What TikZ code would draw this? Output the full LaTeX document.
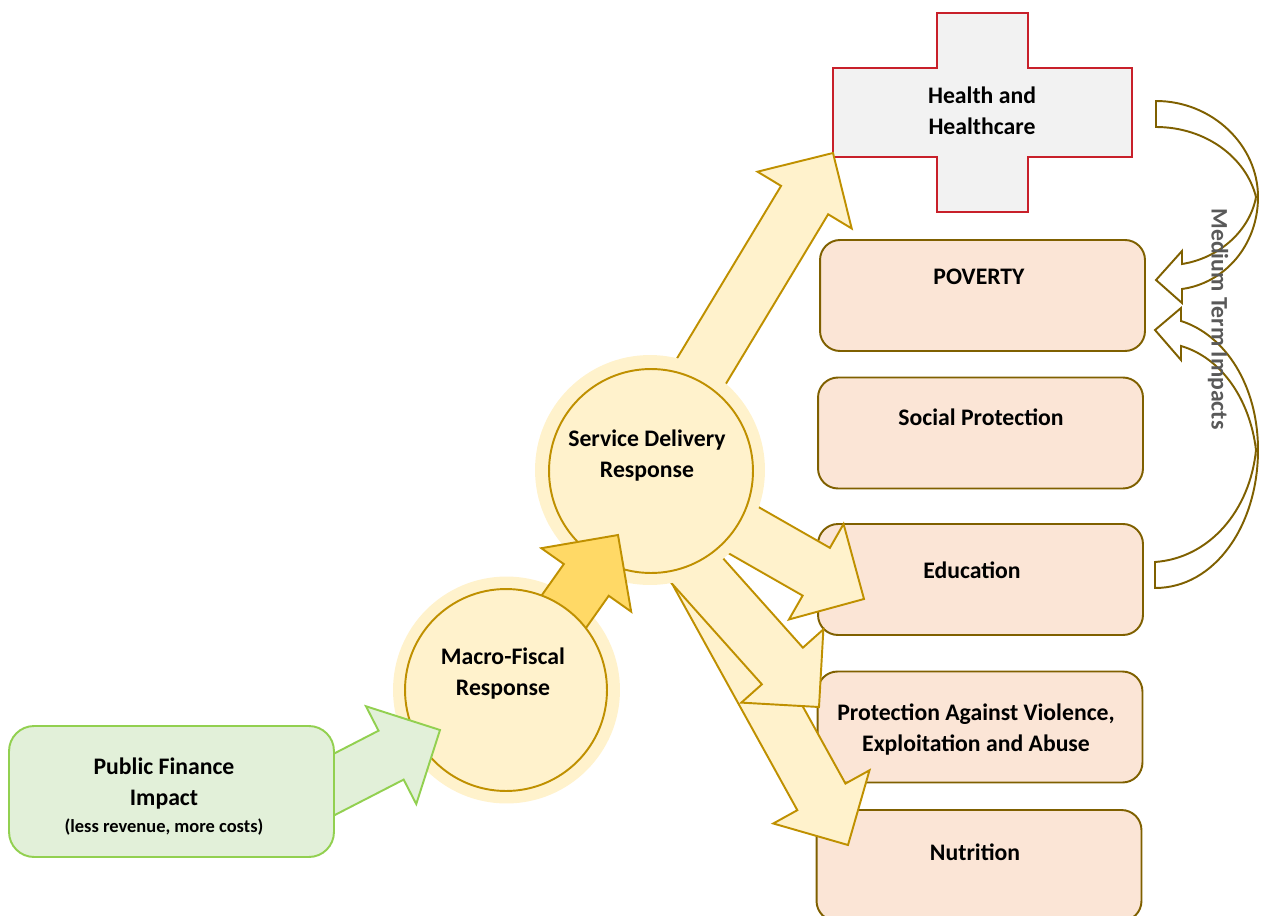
\documentclass[tikz,border=0pt]{standalone}
\usepackage{fontspec}
\setmainfont{Carlito}
\usetikzlibrary{calc}
\definecolor{ringfill}{HTML}{FFF2CC}
\definecolor{ringline}{HTML}{BF9000}
\definecolor{goldfill}{HTML}{FFD966}
\definecolor{greenfill}{HTML}{E2F0D9}
\definecolor{greenline}{HTML}{92D050}
\definecolor{peachfill}{HTML}{FBE5D6}
\definecolor{boxline}{HTML}{7F6000}
\definecolor{crossline}{HTML}{C8202A}
\definecolor{crossfill}{HTML}{F2F2F2}
\definecolor{sidetext}{HTML}{595959}
\tikzset{
  lab/.style={font=\fontsize{13.5}{17.6}\selectfont\bfseries,align=center,inner sep=0pt},
  impactbox/.style={draw=boxline,fill=peachfill,line width=1.1pt,rounded corners=.4cm,minimum width=6.5cm,minimum height=2.22cm,inner sep=0pt},
  glow/.style={circle,fill=ringfill,inner sep=0pt},
  disc/.style={circle,draw=ringline,fill=ringfill,line width=1.1pt,inner sep=0pt},
  fatyellow/.style={draw=ringline,fill=ringfill,line width=1.1pt,line join=miter},
  fatgold/.style={draw=ringline,fill=goldfill,line width=1.1pt},
  fatgreen/.style={draw=greenline,fill=greenfill,line width=1.1pt},
  bentline/.style={draw=boxline,line width=1.1pt}
}
% block arrow: style, tail, tip
\newcommand{\fatarrow}[3]{
  \coordinate (neck) at ($(#3)!1.1cm!(#2)$);
  \draw[#1] ($(#2)!.55cm!90:(#3)$) -- ($(neck)!.55cm!90:(#3)$) -- ($(neck)!1.1cm!90:(#3)$) -- (#3)
    -- ($(neck)!1.1cm!-90:(#3)$) -- ($(neck)!.55cm!-90:(#3)$) -- ($(#2)!.55cm!-90:(#3)$) -- cycle;
}
\begin{document}
\begin{tikzpicture}[x=.02cm,y=-.02cm]
    \useasboundingbox (0,0) rectangle (1261,916);
    \clip (0,0) rectangle (1261,916);

    \coordinate (srvhealth) at (681,405);
    \coordinate (srvedu) at (717,515);
    \coordinate (srvprot) at (677,548);
    \coordinate (srvnutr) at (681,543);
    \coordinate (fiscalout) at (553,627);
    \coordinate (financeout) at (300,802);
    \coordinate (healthtip) at (833,153);
    \coordinate (edutip) at (864,599);
    \coordinate (prottip) at (819,707);
    \coordinate (nutrtip) at (848,845);
    \coordinate (srvtip) at (618,535);
    \coordinate (fiscaltip) at (440,730);

    % right column
    \draw[draw=crossline,fill=crossfill,line width=1.1pt] (937,13) -- (1028,13) -- (1028,68) -- (1132,68) -- (1132,157) -- (1028,157) -- (1028,212) -- (937,212) -- (937,157) -- (833,157) -- (833,68) -- (937,68) -- cycle;
    \node[impactbox] (poverty) at (982.5,295.5) {};
    \node[impactbox] (social) at (980.5,433) {};
    \node[impactbox] (education) at (980.5,579.5) {};
    \node[impactbox] (protection) at (980,727) {};
    \node[impactbox] (nutrition) at (979,865.5) {};

    % arrows out of service delivery
    \fatarrow{fatyellow}{srvnutr}{nutrtip}
    \fatarrow{fatyellow}{srvprot}{prottip}
    \fatarrow{fatyellow}{srvedu}{edutip}
    \fatarrow{fatyellow}{srvhealth}{healthtip}

    \node[glow,minimum size=4.6cm] (srvring) at (650,470) {};
    \node[disc,minimum size=4.08cm] (service) at (651,471) {};
    \node[glow,minimum size=4.54cm] (fiscalring) at (506.5,690) {};
    \fatarrow{fatgold}{fiscalout}{srvtip}
    \node[disc,minimum size=4.04cm] (fiscal) at (506,690) {};
    \fatarrow{fatgreen}{financeout}{fiscaltip}
    \node[draw=greenline,fill=greenfill,line width=1.1pt,rounded corners=.5cm,minimum width=6.5cm,minimum height=2.62cm,inner sep=0pt] (finance) at (171.5,791.5) {};

    % medium term arrows
    \draw[bentline] (1156,101) .. controls (1212,101) and (1258,145) .. (1258,197) .. controls (1258,245) and (1225,283) .. (1182,289) -- (1182,303) -- (1156,280) -- (1182,251) -- (1182,264) .. controls (1220,258) and (1250,230) .. (1256,197) .. controls (1246,157) and (1205,127) .. (1156,127) -- cycle;
    \draw[bentline] (1155,588) .. controls (1215,588) and (1258,525) .. (1258,450) .. controls (1258,385) and (1225,335) .. (1181,321) -- (1181,308) -- (1155,330) -- (1181,360) -- (1181,346) .. controls (1222,358) and (1250,400) .. (1256,450) .. controls (1250,510) and (1210,558) .. (1155,562) -- cycle;

    \node[lab] (healthlab) at (982,111) {Health and\\Healthcare};
    \node[lab] (povertylab) at (979,277) {POVERTY};
    \node[lab] (sociallab) at (981,417) {Social Protection};
    \node[lab] (edulab) at (972,570) {Education};
    \node[lab] (protlab) at (976,729.5) {Protection Against Violence,\\Exploitation and Abuse};
    \node[lab] (nutrlab) at (975,852) {Nutrition};
    \node[lab] (srvlab) at (647,455.5) {Service Delivery\\Response};
    \node[lab] (fiscallab) at (503,673.5) {Macro-Fiscal\\Response};
    \node[lab] (financelab) at (164,783.5) {Public Finance\\Impact};
    \node[lab,font=\fontsize{10.5}{13}\selectfont\bfseries] (financesub) at (164,827) {(less revenue, more costs)};
    \node[lab,text=sidetext,rotate=-90] (sidelab) at (1218,319) {Medium Term Impacts};
\end{tikzpicture}
\end{document}
